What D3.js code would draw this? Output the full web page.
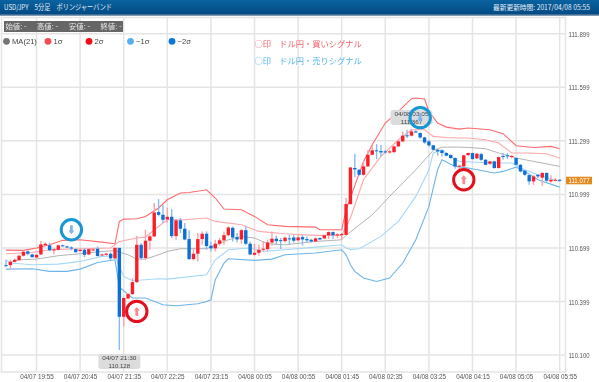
<!DOCTYPE html>
<html><head><meta charset="utf-8">
<script src="https://cdn.jsdelivr.net/npm/d3@7"></script>
<style>
html,body{margin:0;padding:0;background:#fff}
svg{display:block;filter:blur(0.4px)}
text{font-family:"Liberation Sans","Noto Sans CJK JP",sans-serif}
.jp{font-family:"Noto Sans CJK JP",sans-serif}
</style></head><body><svg id="c" width="599" height="382"></svg>
<script>
const title = "USD/JPY　5分足　ボリンジャーバンド";
const updated = "最新更新時間: 2017/04/08 05:55";
const ohlcLabels = ["始値: -","高値: -","安値: -","終値: -"];
const legendNames = ["MA(21)","1σ","2σ","−1σ","−2σ"];
const legendColors = ["#757575","#f9484f","#f50a14","#55b0f2","#0a78d8"];
const noteBuy = "○印　ドル円・買いシグナル";
const noteSell = "○印　ドル円・売りシグナル";
const xTickIndex = [7,17,27,37,47,57,67,77,87,97,107,117,127];
const xTickLabels = ["04/07 19:55","04/07 20:45","04/07 21:35","04/07 22:25","04/07 23:15","04/08 00:05","04/08 00:55","04/08 01:45","04/08 02:35","04/08 03:25","04/08 04:15","04/08 05:05","04/08 05:55"];
const yTicks = [111.899,111.599,111.299,110.999,110.699,110.399,110.100];
const lastPrice = 111.077;

const opens = [110.603,110.603,110.622,110.631,110.656,110.680,110.663,110.646,110.663,110.715,
110.714,110.687,110.689,110.714,110.708,110.702,110.693,110.682,110.689,110.663,
110.687,110.695,110.659,110.661,110.667,110.641,110.700,110.314,110.417,110.441,
110.508,110.717,110.643,110.740,110.764,110.900,110.885,110.859,110.874,110.766,
110.854,110.807,110.749,110.637,110.667,110.749,110.779,110.712,110.697,110.723,
110.742,110.771,110.812,110.760,110.747,110.799,110.723,110.661,110.672,110.689,
110.693,110.730,110.751,110.743,110.738,110.753,110.758,110.742,110.760,110.749,
110.745,110.736,110.755,110.753,110.770,110.788,110.771,110.773,110.773,110.945,
111.147,111.137,111.109,111.156,111.221,111.246,111.242,111.240,111.234,111.236,
111.268,111.296,111.330,111.328,111.352,111.343,111.318,111.296,111.274,111.249,
111.246,111.231,111.220,111.203,111.156,111.156,111.219,111.231,111.201,111.225,
111.193,111.171,111.184,111.147,111.214,111.218,111.210,111.203,111.165,111.132,
111.107,111.072,111.109,111.093,111.119,111.072,111.078,111.081];
const highs = [110.633,110.633,110.641,110.659,110.686,110.686,110.667,110.665,110.738,110.730,
110.730,110.699,110.717,110.717,110.712,110.708,110.697,110.695,110.699,110.699,
110.699,110.708,110.667,110.672,110.674,110.704,110.700,110.424,110.447,110.531,
110.768,110.727,110.801,110.773,110.951,110.973,110.941,110.925,110.917,110.861,
110.867,110.839,110.798,110.699,110.783,110.792,110.792,110.736,110.745,110.755,
110.792,110.820,110.820,110.783,110.805,110.824,110.736,110.723,110.717,110.736,
110.745,110.792,110.768,110.755,110.764,110.773,110.773,110.773,110.773,110.764,
110.751,110.758,110.758,110.773,110.792,110.792,110.783,110.783,110.979,111.152,
111.227,111.141,111.184,111.246,111.277,111.281,111.277,111.249,111.249,111.272,
111.302,111.352,111.361,111.367,111.358,111.347,111.322,111.302,111.277,111.253,
111.249,111.235,111.223,111.206,111.165,111.221,111.234,111.234,111.231,111.231,
111.197,111.188,111.188,111.212,111.231,111.231,111.220,111.206,111.169,111.135,
111.111,111.109,111.113,111.124,111.122,111.106,111.091,111.085];
const lows = [110.592,110.577,110.618,110.628,110.652,110.659,110.644,110.643,110.659,110.708,
110.682,110.663,110.686,110.706,110.699,110.686,110.673,110.678,110.648,110.659,
110.682,110.652,110.656,110.656,110.630,110.637,110.128,110.260,110.413,110.437,
110.503,110.633,110.633,110.689,110.760,110.876,110.839,110.840,110.755,110.742,
110.783,110.742,110.633,110.630,110.624,110.717,110.689,110.680,110.680,110.712,
110.717,110.764,110.736,110.730,110.723,110.716,110.659,110.656,110.656,110.680,
110.680,110.712,110.717,110.693,110.730,110.717,110.730,110.736,110.712,110.730,
110.730,110.732,110.742,110.749,110.749,110.749,110.755,110.745,110.770,110.941,
111.096,111.104,111.104,111.152,111.218,111.197,111.212,111.227,111.227,111.231,
111.264,111.292,111.315,111.324,111.343,111.311,111.283,111.268,111.246,111.216,
111.212,111.212,111.197,111.143,111.141,111.152,111.216,111.193,111.197,111.188,
111.162,111.165,111.143,111.143,111.193,111.197,111.201,111.162,111.122,111.104,
111.053,111.053,111.091,111.048,111.070,111.066,111.072,111.072];
const closes = [110.600,110.622,110.633,110.656,110.678,110.667,110.648,110.661,110.719,110.723,
110.686,110.691,110.714,110.710,110.702,110.697,110.676,110.689,110.661,110.693,
110.691,110.654,110.663,110.667,110.641,110.700,110.314,110.419,110.441,110.508,
110.717,110.643,110.740,110.764,110.898,110.885,110.857,110.874,110.766,110.854,
110.807,110.747,110.637,110.667,110.749,110.779,110.710,110.697,110.723,110.742,
110.771,110.814,110.758,110.747,110.799,110.723,110.663,110.672,110.689,110.695,
110.730,110.751,110.738,110.738,110.757,110.749,110.740,110.758,110.747,110.742,
110.736,110.753,110.747,110.770,110.788,110.771,110.775,110.777,110.945,111.150,
111.139,111.109,111.156,111.221,111.246,111.242,111.234,111.234,111.240,111.268,
111.296,111.328,111.326,111.352,111.346,111.318,111.290,111.274,111.249,111.240,
111.231,111.216,111.203,111.156,111.160,111.218,111.231,111.197,111.227,111.193,
111.165,111.184,111.147,111.208,111.210,111.214,111.214,111.165,111.128,111.109,
111.072,111.100,111.100,111.119,111.076,111.081,111.081,111.077];

const upper2Idx = [0,4,7,10,13,17,22,25,26,27,30,32,35,37,40,42,46,48,50,54,57,60,64,71,72,77,78,79,82,84,87,90,93,94,96,97,99,101,104,106,111,114,117,121,125,127];
const upper2 = [110.687,110.686,110.699,110.717,110.742,110.745,110.732,110.723,110.848,110.861,110.863,110.876,110.923,110.969,111.007,111.010,111.025,110.979,110.917,110.913,110.876,110.829,110.820,110.816,110.801,110.801,110.913,110.980,111.184,111.277,111.399,111.464,111.535,111.539,111.533,111.464,111.399,111.376,111.365,111.371,111.361,111.339,111.272,111.262,111.268,111.255];
const upper1Idx = [0,6,10,17,24,25,26,30,32,34,37,41,46,48,54,58,64,71,77,78,79,82,86,90,93,96,98,101,104,106,110,113,116,120,124,127];
const upper1 = [110.667,110.674,110.689,110.695,110.699,110.717,110.736,110.755,110.760,110.801,110.857,110.857,110.867,110.848,110.829,110.792,110.779,110.770,110.770,110.820,110.867,111.081,111.212,111.305,111.361,111.361,111.324,111.318,111.315,111.315,111.305,111.287,111.231,111.231,111.227,111.203];
const maIdx = [1,3,7,12,17,22,25,28,30,32,35,37,40,46,51,54,57,60,64,71,77,78,84,88,94,98,100,104,106,110,113,117,121,127];
const ma = [110.618,110.633,110.637,110.656,110.667,110.680,110.684,110.661,110.637,110.637,110.661,110.680,110.695,110.695,110.745,110.764,110.755,110.723,110.717,110.736,110.745,110.770,110.885,110.988,111.137,111.246,111.264,111.264,111.262,111.255,111.231,111.203,111.184,111.156];
const lower1Idx = [0,1,6,12,17,22,25,26,27,29,35,37,46,48,51,56,59,64,71,77,78,79,81,82,86,90,94,97,98,100,102,104,109,113,116,119,122,127];
const lower1 = [110.633,110.615,110.605,110.609,110.624,110.652,110.656,110.596,110.540,110.516,110.527,110.525,110.549,110.633,110.689,110.699,110.680,110.689,110.704,110.717,110.699,110.690,110.695,110.708,110.764,110.848,110.988,111.137,111.231,111.249,111.212,111.184,111.178,111.175,111.175,111.137,111.109,111.072];
const lower2Idx = [0,6,10,14,17,21,25,26,29,32,36,39,44,46,47,48,50,51,57,61,64,71,77,78,79,80,82,85,88,91,94,97,99,100,103,106,112,114,117,119,122,127];
const lower2 = [110.581,110.583,110.568,110.568,110.581,110.618,110.633,110.480,110.419,110.419,110.381,110.376,110.387,110.400,110.409,110.521,110.615,110.639,110.630,110.637,110.661,110.671,110.689,110.661,110.605,110.568,110.531,110.512,110.531,110.615,110.745,110.932,111.137,111.193,111.156,111.147,111.119,111.128,111.152,111.128,111.081,111.040];
const bandColors = ["#ff6a6e","#ffa8aa","#aaaaaa","#a6d8f8","#6db4e8"];
const bandWidths = [1.1,1.1,0.9,1.1,1.1];

const signalIdx = [15,95,30,105];
const signalPrice = [110.801,111.429,110.344,111.081];
const signalBuy = [false,false,true,true];
const tipIdx = [26,93];
const tipTime = ["04/07 21:30","04/08 03:05"];
const tipPrice = [110.128,111.367];

const svg = d3.select("#c");
const W=599, H=382;
const x = d3.scaleLinear().domain([0,127]).range([6,559.7]);
const y = d3.scaleLinear().domain([110.100,111.899]).range([355,33.7]);
const frame = {l:1.5,r:565.5,t:17.5,b:372};

const narrow = (sel,len)=>sel.attr("textLength",len).attr("lengthAdjust","spacingAndGlyphs");

const defs = svg.append("defs");
const g = defs.append("linearGradient").attr("id","hd").attr("x1",0).attr("x2",0).attr("y1",0).attr("y2",1);
g.append("stop").attr("offset","0%").attr("stop-color","#0a639f");
g.append("stop").attr("offset","100%").attr("stop-color","#024a85");
svg.append("rect").attr("width",W).attr("height",14.5).attr("fill","url(#hd)");
svg.append("rect").attr("y",14.5).attr("width",W).attr("height",1).attr("fill","#013a6b");
svg.append("text").attr("class","jp").attr("x",4).attr("y",10).attr("font-size",7.8).attr("fill","#e6eef5").text(title).call(narrow,108);
svg.append("text").attr("class","jp").attr("x",493).attr("y",10).attr("font-size",7).attr("fill","#e6eef5").text(updated).call(narrow,97);

const grid = svg.append("g").attr("stroke","#e4e4e4").attr("stroke-width",1.5).attr("fill","none");
grid.append("rect").attr("x",frame.l).attr("y",frame.t).attr("width",frame.r-frame.l).attr("height",frame.b-frame.t);
grid.selectAll("line.v").data(xTickIndex).join("line").attr("x1",d=>x(d)).attr("x2",d=>x(d)).attr("y1",frame.t).attr("y2",frame.b);
grid.selectAll("line.h").data(yTicks).join("line").attr("x1",frame.l).attr("x2",frame.r).attr("y1",d=>y(d)).attr("y2",d=>y(d));

const axB = d3.axisBottom(x).tickValues(xTickIndex).tickSize(0).tickPadding(0).tickFormat((d,i)=>xTickLabels[i]);
const gb = svg.append("g").attr("transform",`translate(0,${frame.b+3})`).call(axB);
gb.select(".domain").remove();
gb.selectAll("text").attr("font-size",7.6).attr("fill","#555").attr("dy","0.55em").call(narrow,33.5);
const axR = d3.axisRight(y).tickValues(yTicks).tickSize(0).tickPadding(0).tickFormat(d3.format(".3f"));
const gr = svg.append("g").attr("transform",`translate(568.5,0)`).call(axR);
gr.select(".domain").remove();
gr.selectAll("text").attr("font-size",7.6).attr("fill","#555").call(narrow,21);

const line = d3.line().x(d=>x(d[0])).y(d=>y(d[1]));
const bands = [[upper2Idx,upper2],[upper1Idx,upper1],[maIdx,ma],[lower1Idx,lower1],[lower2Idx,lower2]];
svg.append("g").selectAll("path").data(bands).join("path")
  .attr("d",b=>line(b[0].map((k,i)=>[k,b[1][i]]))).attr("fill","none")
  .attr("stroke",(b,i)=>bandColors[i]).attr("stroke-width",(b,i)=>bandWidths[i]);

const cd = d3.range(opens.length);
const cg = svg.append("g");
cg.selectAll("line").data(cd).join("line")
  .attr("x1",i=>x(i)).attr("x2",i=>x(i)).attr("y1",i=>y(highs[i])).attr("y2",i=>y(lows[i]))
  .attr("stroke",i=>closes[i]>=opens[i]?"#ffa0a4":"#85bdf0").attr("stroke-width",1.4);
cg.selectAll("rect").data(cd).join("rect")
  .attr("x",i=>x(i)-1.7).attr("width",3.4)
  .attr("y",i=>y(Math.max(opens[i],closes[i])))
  .attr("height",i=>Math.max(1,Math.abs(y(opens[i])-y(closes[i]))))
  .attr("fill",i=>closes[i]>=opens[i]?"#fa1e28":"#0c6fd6");

// tooltips
const tips = svg.append("g").selectAll("g").data(tipIdx).join("g")
  .attr("transform",(d,i)=>`translate(${x(d)},${i===0?354:110})`);
tips.append("rect").attr("x",-21).attr("width",42).attr("height",15).attr("rx",3).attr("fill","#dcdcdc");
tips.append("text").attr("text-anchor","middle").attr("y",6.4).attr("font-size",6.2).attr("fill","#444").text((d,i)=>tipTime[i]).call(narrow,34);
tips.append("text").attr("text-anchor","middle").attr("y",13.6).attr("font-size",6.2).attr("fill","#444").text((d,i)=>d3.format(".3f")(tipPrice[i])).call(narrow,21.5);

// signal rings and arrows
const sg = svg.append("g").selectAll("g").data(signalIdx).join("g")
  .attr("transform",(d,i)=>`translate(${x(d)},${y(signalPrice[i])})`);
sg.append("circle").attr("r",10.2).attr("fill","none").attr("stroke-width",3)
  .attr("stroke",(d,i)=>signalBuy[i]?"#e2101e":"#1798d4");
sg.append("path").attr("d",(d,i)=>signalBuy[i]?"M0,-4.5L3,-0.8L1.4,-0.8L1.4,4.5L-1.4,4.5L-1.4,-0.8L-3,-0.8Z":"M0,4.5L3,0.8L1.4,0.8L1.4,-4.5L-1.4,-4.5L-1.4,0.8L-3,0.8Z")
  .attr("fill",(d,i)=>signalBuy[i]?"#fb8a8e":"#7fb4f2");

// info box
svg.append("rect").attr("x",4).attr("y",21).attr("width",119).attr("height",11).attr("fill","#666");
const ib = [5.5,37,69,100.5];
svg.append("g").selectAll("text").data(ohlcLabels).join("text").attr("class","jp")
  .attr("x",(d,i)=>ib[i]).attr("y",29.3).attr("font-size",7.4).attr("fill","#e8e8e8").text(d=>d).call(narrow,21);

// legend
const lx = [6.5,48,89,130.5,172];
const lgd = svg.append("g").selectAll("g").data(legendNames).join("g").attr("transform",(d,i)=>`translate(${lx[i]},41.3)`);
lgd.append("circle").attr("r",3.4).attr("fill",(d,i)=>legendColors[i]);
lgd.append("text").attr("x",5.5).attr("y",2.7).attr("font-size",7.6).attr("fill","#444").text(d=>d);

svg.append("text").attr("class","jp").attr("x",254.5).attr("y",47.4).attr("font-size",8.25).attr("fill","#f4606a").text(noteBuy);
svg.append("text").attr("class","jp").attr("x",254.5).attr("y",63.8).attr("font-size",8.25).attr("fill","#55b4ee").text(noteSell);

// price tag
svg.append("rect").attr("x",566).attr("y",y(lastPrice)-3.8).attr("width",26).attr("height",7.6).attr("fill","#e38b1f");
svg.append("text").attr("x",579).attr("y",y(lastPrice)+2.8).attr("text-anchor","middle").attr("font-size",7.6).attr("fill","#fff").text(d3.format(".3f")(lastPrice)).call(narrow,21);
</script></body></html>
